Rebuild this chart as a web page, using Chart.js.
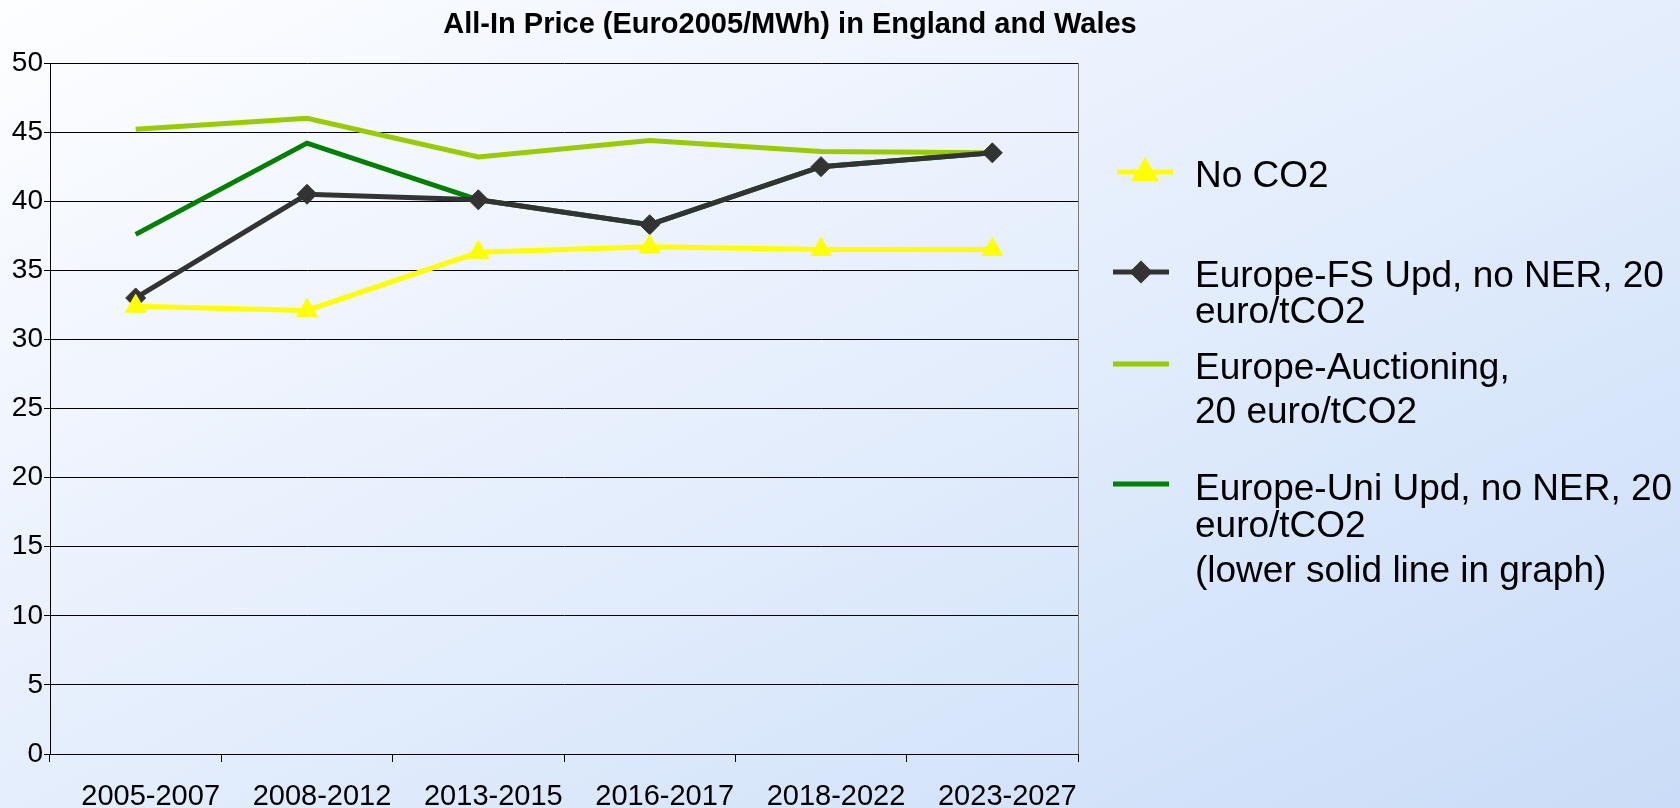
<html><head>
<meta charset="UTF-8">
<title>All-In Price England and Wales</title>
<script src="https://cdn.jsdelivr.net/npm/chart.js"></script>
<style>
* {
  margin: 0;
  padding: 0;
  box-sizing: border-box;
}

body {
  width: 1680px;
  height: 808px;
  overflow: hidden;
  background: linear-gradient(to bottom right, #fdfeff 0%, #eaf1fd 40%, #d9e7fb 70%, #cadcf7 100%);
  font-family: 'Liberation Sans', Arial, sans-serif;
}

.wrap {
  position: relative;
  width: 1680px;
  height: 808px;
}
</style>
</head>
<body>
<div class="wrap">
  <canvas id="priceChart" width="1680" height="808"></canvas>
</div>

<script>
const titleText = 'All-In Price (Euro2005/MWh) in England and Wales';
const categories = ['2005-2007', '2008-2012', '2013-2015', '2016-2017', '2018-2022', '2023-2027'];
const noCO2 = [32.4, 32.1, 36.3, 36.7, 36.5, 36.5];
const fsUpd = [33.0, 40.5, 40.1, 38.3, 42.5, 43.5];
const auctioning = [45.2, 46.0, 43.2, 44.4, 43.6, 43.5];
const uniUpd = [37.6, 44.2, 40.1, 38.3, 42.5, 43.5];
const yTicks = [0, 5, 10, 15, 20, 25, 30, 35, 40, 45, 50];

const legendLines = [
  ['No CO2'],
  ['Europe-FS Upd, no NER, 20', 'euro/tCO2'],
  ['Europe-Auctioning,', '20 euro/tCO2'],
  ['Europe-Uni Upd, no NER, 20', 'euro/tCO2', '(lower solid line in graph)']
];

const FONT = "'Liberation Sans', Arial, sans-serif";

// legend + title + right frame, drawn on the chart canvas
const overlay = {
  id: 'overlay',
  afterDraw(chart) {
    const ctx = chart.ctx;
    const area = chart.chartArea;
    ctx.save();

    ctx.strokeStyle = '#7a7a7a';
    ctx.lineWidth = 1;
    ctx.beginPath();
    ctx.moveTo(Math.round(area.right) + 0.5, area.top);
    ctx.lineTo(Math.round(area.right) + 0.5, area.bottom);
    ctx.stroke();

    ctx.fillStyle = '#000';
    ctx.font = 'bold 29px ' + FONT;
    ctx.textAlign = 'center';
    ctx.textBaseline = 'alphabetic';
    ctx.fillText(titleText, 790, 33);

    // marker y, then text baselines for each entry
    const layout = [
      { y: 172, base: [187] },
      { y: 272, base: [287, 323] },
      { y: 364, base: [379, 423] },
      { y: 484, base: [500, 537, 582] }
    ];
    layout.forEach((item, i) => {
      const ds = chart.data.datasets[i];
      ctx.strokeStyle = ds.borderColor;
      ctx.lineWidth = 5;
      ctx.beginPath();
      ctx.moveTo(i === 0 ? 1117 : 1113, item.y);
      ctx.lineTo(i === 0 ? 1173 : 1169, item.y);
      ctx.stroke();
      if (ds.pointRadius > 0) {
        const tri = ds.pointStyle === 'triangle';
        ctx.fillStyle = ds.pointBackgroundColor;
        ctx.strokeStyle = ds.pointBorderColor;
        Chart.helpers.drawPoint(ctx, {
          pointStyle: ds.pointStyle,
          radius: tri ? 11 : 8,
          borderWidth: 1
        }, tri ? 1145 : 1141, tri ? item.y + 1 : item.y);
      }
      ctx.fillStyle = '#000';
      ctx.font = '37px ' + FONT;
      ctx.textAlign = 'left';
      ctx.textBaseline = 'alphabetic';
      legendLines[i].forEach((t, j) => ctx.fillText(t, 1195, item.base[j]));
    });
    ctx.restore();
  }
};

const ctx = document.getElementById('priceChart').getContext('2d');

const priceChart = new Chart(ctx, {
  type: 'line',
  data: {
    labels: categories,
    datasets: [{
      label: 'No CO2',
      data: noCO2,
      borderColor: '#ffff00',
      backgroundColor: '#ffff00',
      pointBackgroundColor: '#ffff00',
      pointBorderColor: '#ffff00',
      pointStyle: 'triangle',
      pointRadius: 12,
      pointBorderWidth: 1,
      borderWidth: 5,
      tension: 0
    }, {
      label: 'Europe-FS Upd, no NER, 20 euro/tCO2',
      data: fsUpd,
      borderColor: '#333333',
      backgroundColor: '#333333',
      pointBackgroundColor: '#333333',
      pointBorderColor: '#333333',
      pointStyle: 'rectRot',
      pointRadius: 10,
      pointBorderWidth: 1,
      borderWidth: 5,
      tension: 0
    }, {
      label: 'Europe-Auctioning, 20 euro/tCO2',
      data: auctioning,
      borderColor: '#99cc00',
      backgroundColor: '#99cc00',
      pointRadius: 0,
      borderWidth: 5,
      tension: 0
    }, {
      label: 'Europe-Uni Upd, no NER, 20 euro/tCO2',
      data: uniUpd,
      borderColor: '#008000',
      backgroundColor: '#008000',
      pointRadius: 0,
      borderWidth: 5,
      tension: 0
    }]
  },
  options: {
    responsive: false,
    animation: false,
    layout: {
      padding: { top: 63, right: 602, left: 0, bottom: 0 }
    },
    plugins: {
      legend: { display: false },
      title: { display: false },
      tooltip: { enabled: false }
    },
    scales: {
      x: {
        offset: true,
        grid: {
          offset: true,
          drawOnChartArea: false,
          drawTicks: true,
          tickLength: 8,
          color: '#000'
        },
        border: { display: true, color: '#000', width: 1 },
        ticks: {
          color: '#000',
          padding: 18,
          labelOffset: 15,
          maxRotation: 0,
          font: { family: FONT, size: 29 }
        },
        afterFit(scale) { scale.height = 54; }
      },
      y: {
        min: 0,
        max: 50,
        afterBuildTicks(scale) {
          scale.ticks = yTicks.map(v => ({ value: v }));
        },
        grid: {
          color: '#000',
          lineWidth: 1,
          tickLength: 6
        },
        border: { display: true, color: '#000', width: 1 },
        ticks: {
          color: '#000',
          padding: 1,
          font: { family: FONT, size: 28 }
        },
        afterFit(scale) { scale.width = 50; }
      }
    }
  },
  plugins: [overlay]
});
</script>
</body></html>
